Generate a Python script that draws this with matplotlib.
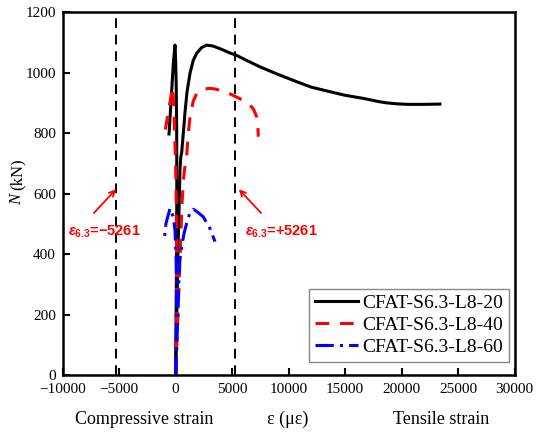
import matplotlib
matplotlib.use("Agg")
import matplotlib.pyplot as plt

plt.rcParams['font.family'] = ['Liberation Serif', 'DejaVu Serif']
plt.rcParams['mathtext.fontset'] = 'custom'
plt.rcParams['mathtext.it'] = 'Liberation Sans:bold:italic'
plt.rcParams['mathtext.rm'] = 'Liberation Sans:bold'
plt.rcParams['mathtext.bf'] = 'Liberation Sans:bold'

labels = ["CFAT-S6.3-L8-20", "CFAT-S6.3-L8-40", "CFAT-S6.3-L8-60"]

# L8-20 (black): compressive-side gauge and tensile-side gauge
bk_a_x = [0, 40, 80, 100, 90, 50, 0, -60, -210, -400, -590]
bk_a_y = [0, 200, 400, 600, 800, 950, 1040, 1091, 1030, 910, 797]
bk_b_x = [0, 100, 200, 300, 380, 450, 530, 700, 820, 1000, 1270, 1550, 1860, 2300,
          2740, 3300, 4000, 4800, 5340, 6300, 7470, 9000, 10710, 12000, 13650, 15000,
          16580, 18000, 18670, 19500, 20500, 22000, 23390]
bk_b_y = [0, 200, 400, 550, 680, 720, 735, 810, 866, 935, 998, 1040, 1064, 1083,
          1091, 1088, 1078, 1065, 1058, 1040, 1019, 995, 970, 952, 937, 925,
          915, 904, 900, 897, 895, 895, 896]

# L8-40 (red)
rd_a_x = [0, 50, 80, 60, 0, -60, -150, -270, -650, -1030]
rd_a_y = [0, 150, 350, 550, 680, 760, 880, 953, 870, 786]
rd_b_x = [0, 150, 300, 450, 550, 700, 850, 970, 1100, 1270, 1550, 1860, 2400, 3040,
          3600, 4210, 4800, 5340, 6000, 6580, 6900, 7170, 7280, 7310]
rd_b_y = [0, 150, 300, 450, 560, 650, 700, 722, 790, 854, 905, 931, 945, 948,
          945, 937, 930, 920, 908, 893, 878, 854, 820, 788]

# L8-60 (blue)
bl_a_x = [0, 60, 90, 30, -60, -210, -500, -860, -1030]
bl_a_y = [0, 150, 300, 391, 479, 523, 551, 501, 441]
bl_b_x = [0, 100, 200, 320, 420, 530, 750, 970, 1250, 1560, 1900, 2440, 3030, 3480]
bl_b_y = [0, 100, 200, 358, 395, 424, 470, 501, 535, 548, 540, 523, 485, 441]

eps_y = 5261

fig = plt.figure(figsize=(5.36, 4.34), dpi=100)
ax = fig.add_axes([0.117, 0.136, 0.843, 0.836])

ax.axvline(-eps_y, color='black', lw=1.4, dashes=(5, 3.5))
ax.axvline(eps_y, color='black', lw=1.4, dashes=(5, 3.5))

lw = 2.2
l1, = ax.plot(bk_a_x, bk_a_y, color='black', lw=lw, label=labels[0])
ax.plot(bk_b_x, bk_b_y, color='black', lw=lw)
l2, = ax.plot(rd_a_x, rd_a_y, color='#ff0000', lw=lw, dashes=(4.5, 3.5), label=labels[1])
ax.plot(rd_b_x, rd_b_y, color='#ff0000', lw=lw, dashes=(4.5, 3.5))
l3, = ax.plot(bl_a_x, bl_a_y, color='#0000ff', lw=lw, dashes=(6, 2, 1, 2), label=labels[2])
ax.plot(bl_b_x, bl_b_y, color='#0000ff', lw=lw, dashes=(6, 2, 1, 2))

ax.set_xlim(-10000, 30000)
ax.set_ylim(0, 1200)
ax.set_xticks(range(-10000, 30001, 5000))
ax.set_yticks(range(0, 1201, 200))
ax.tick_params(direction='in', length=5, width=1.5, labelsize=11)
ax.tick_params(axis='x', pad=6)
ax.tick_params(axis='y', pad=5)
for s in ax.spines.values():
    s.set_linewidth(1.8)

leg = ax.legend(handles=[l1, l2, l3], loc='lower right', bbox_to_anchor=(0.987, 0.036),
                borderaxespad=0, fontsize=14, labelspacing=0.22, handlelength=2.2,
                handletextpad=0.2, borderpad=0.3, fancybox=False, framealpha=1,
                edgecolor='#888888')
leg.get_frame().set_linewidth(1.0)

# annotations
ax.annotate('', xy=(-5110, 621), xytext=(-7410, 529),
            arrowprops=dict(arrowstyle='->', color='#ff0000', lw=1.3))
ax.annotate('', xy=(5420, 621), xytext=(7730, 529),
            arrowprops=dict(arrowstyle='->', color='#ff0000', lw=1.3))
ax.text(-9500, 473, r'$\varepsilon_{6.3}$=−5261', color='#ff0000', fontsize=10.5,
        fontweight='bold', family='Liberation Sans', va='center', ha='left')
ax.text(6150, 473, r'$\varepsilon_{6.3}$=+5261', color='#ff0000', fontsize=10.5,
        fontweight='bold', family='Liberation Sans', va='center', ha='left')

# axis labels
fig.text(0.032, 1 - 199 / 434, 'N', rotation=90, fontsize=12, style='italic', ha='center', va='center')
fig.text(0.032, 1 - 174 / 434, '(kN)', rotation=90, fontsize=12, ha='center', va='center')
fig.text(288 / 536, 1 - 419 / 434, 'ε (με)', fontsize=13, ha='center', va='center')
fig.text(144 / 536, 1 - 419 / 434, 'Compressive strain', fontsize=13, ha='center', va='center')
fig.text(441 / 536, 1 - 419 / 434, 'Tensile strain', fontsize=13, ha='center', va='center')

fig.savefig('out.png', dpi=100)
